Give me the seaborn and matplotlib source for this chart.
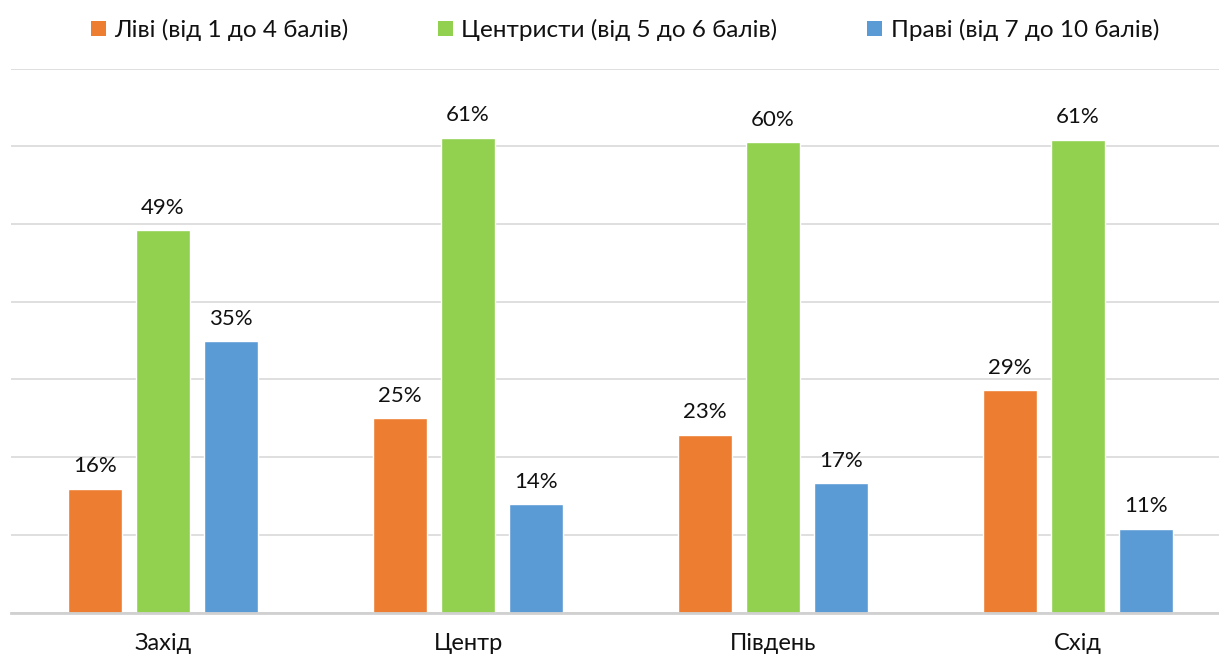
import matplotlib
matplotlib.use("Agg")
import matplotlib.pyplot as plt
import seaborn as sns
import pandas as pd
from matplotlib.patches import Patch

regions = ["Захід", "Центр", "Південь", "Схід"]
groups = ["Ліві (від 1 до 4 балів)", "Центристи (від 5 до 6 балів)", "Праві (від 7 до 10 балів)"]
left_vals = [15.9, 25.0, 22.9, 28.6]
center_vals = [49.2, 61.1, 60.5, 60.8]
right_vals = [34.9, 13.9, 16.6, 10.8]
colors = ["#ED7D31", "#92D050", "#5B9BD5"]

rows = []
for g, vals in zip(groups, [left_vals, center_vals, right_vals]):
    for r, v in zip(regions, vals):
        rows.append({"region": r, "group": g, "value": v})
df = pd.DataFrame(rows)

sns.set_theme(style="white")
plt.rcParams["font.family"] = ["Lato", "DejaVu Sans"]

fig = plt.figure(figsize=(12.19, 6.6), dpi=100)
ax = fig.add_axes([10.5 / 1219, 47.5 / 660, 1220 / 1219, 544 / 660])

sns.barplot(data=df, x="region", y="value", hue="group", order=regions,
            hue_order=groups, palette=colors, width=0.669, gap=0.213,
            saturation=1, ax=ax, legend=False, errorbar=None)

for cont in ax.containers:
    ax.bar_label(cont, labels=[f"{round(b.get_height())}%" for b in cont],
                 padding=9, fontsize=16, color="#111111")

ax.set_xlim(-0.5, 3.5)
ax.set_ylim(0, 70)
ax.set_yticks(range(0, 71, 10))
ax.yaxis.grid(True, color="#d9d9d9", linewidth=1.2)
ax.set_axisbelow(True)
ax.set_yticklabels([])
ax.tick_params(axis="y", length=0)
ax.tick_params(axis="x", length=0, labelsize=17, pad=15, labelcolor="#111111")
ax.set_xlabel("")
ax.set_ylabel("")
for s in ["left", "right", "top"]:
    ax.spines[s].set_visible(False)
ax.spines["bottom"].set_color("#d0d0d0")
ax.spines["bottom"].set_linewidth(2)

handles = [Patch(facecolor=c, edgecolor="none") for c in colors]
fig.legend(handles, groups, loc="center", bbox_to_anchor=(625 / 1219, 1 - 30 / 660),
           ncol=3, frameon=False, fontsize=17.5, handlelength=0.6, handleheight=0.6,
           handletextpad=0.35, columnspacing=3.7, labelcolor="#111111")

fig.savefig("out.png", dpi=100)
